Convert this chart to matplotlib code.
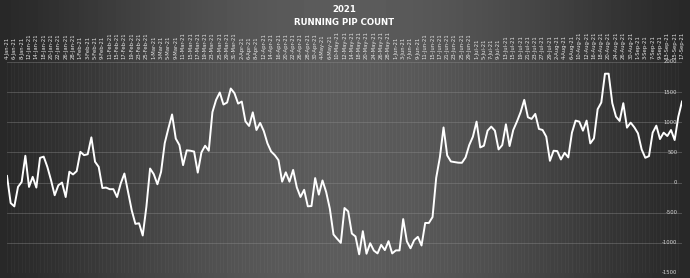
import numpy as np
import pandas as pd
import matplotlib
matplotlib.use("Agg")
import matplotlib.pyplot as plt

# trading days (weekdays) covered by the chart
dates = pd.bdate_range("2021-01-04", "2021-09-17")

# running pip count
pip_count = [
    110, -340, -395, -72, 10, 445, -72, 95, -83, 410,
    430, 260, 40, -210, -45, 0, -240, 180, 135, 190,
    510, 455, 470, 750, 345, 260, -90, -83, -110, -110,
    -240, -15, 150, -155, -460, -685, -675, -878, -400, 233,
    140, -28, 178, 655, 900, 1130, 730, 622, 289, 535,
    528, 515, 165, 500, 611, 528, 1170, 1372, 1494, 1295,
    1328, 1560, 1483, 1310, 1344, 1015, 939, 1165, 872, 990,
    855, 650, 515, 455, 372, 15, 170, 15, 210, -80,
    -239, -120, -394, -389, 75, -200, 35, -156, -433, -861,
    -933, -1000, -422, -478, -845, -894, -1190, -806, -1180, -1006,
    -1128, -1175, -1033, -1120, -972, -1175, -1125, -1125, -605, -975,
    -1090, -955, -900, -1044, -670, -670, -572, 80, 420, 915,
    450, 350, 340, 330, 328, 417, 622, 761, 1011, 583,
    611, 861, 928, 861, 550, 622, 967, 606, 872, 1011,
    1167, 1372, 1083, 1056, 1139, 890, 872, 761, 361, 528,
    522, 383, 494, 417, 828, 1028, 1011, 861, 1028, 650,
    733, 1217, 1328, 1806, 1806, 1317, 1094, 1022, 1317, 911,
    994, 917, 817, 550, 411, 439, 828, 944, 722, 828,
    772, 872, 706, 1094, 1344,
]

y_ticks = [-1500, -1000, -500, 0, 500, 1000, 1500, 2000]
date_labels = [f"{d.day}-{d.strftime('%b-%y')}" for d in dates]

fig = plt.figure(figsize=(6.9, 2.78), dpi=100)

# dark gradient background, lighter in the middle
bg = fig.add_axes([0, 0, 1, 1], zorder=-1)
xx = np.linspace(0, 1, 690)
prof = 0.16 + 0.20 * np.sin(np.pi * xx) ** 1.3
bg.imshow(np.tile(prof, (278, 1)), cmap="gray", vmin=0, vmax=1,
          aspect="auto", extent=[0, 1, 0, 1])
bg.axis("off")

ax = fig.add_axes([7 / 690, 5 / 278, 675 / 690, 211 / 278])
ax.patch.set_alpha(0)
x = np.arange(len(pip_count))

for i in x:
    ax.axvline(i, color="white", alpha=0.04, lw=0.6, zorder=0)
for t in y_ticks:
    ax.axhline(t, color="#909090", alpha=0.45, lw=0.6, zorder=1)

ax.plot(x, pip_count, color="white", lw=1.4, solid_joinstyle="round", zorder=3)
ax.set_xlim(0, len(x) - 1)
ax.set_ylim(-1500, 2000)

for s in ax.spines.values():
    s.set_visible(False)

ax.xaxis.tick_top()
ax.set_xticks(x[::2])
ax.set_xticklabels(date_labels[::2], rotation=90)
ax.tick_params(axis="x", length=0, pad=2, labelsize=3.8, labelcolor="#e6e6e6")
ax.set_yticks([])
for t in y_ticks:
    ax.text(0.993, t, f"{t}", transform=ax.get_yaxis_transform(),
            ha="right", va="center", fontsize=3.8, color="#d8d8d8")

fig.text(0.499, 1 - 10 / 278, "2021", ha="center", va="center",
         fontsize=6.2, fontweight="bold", color="white")
fig.text(0.499, 1 - 22.5 / 278, "RUNNING PIP COUNT", ha="center", va="center",
         fontsize=6.2, fontweight="bold", color="white")

fig.savefig("out.png", dpi=100)
